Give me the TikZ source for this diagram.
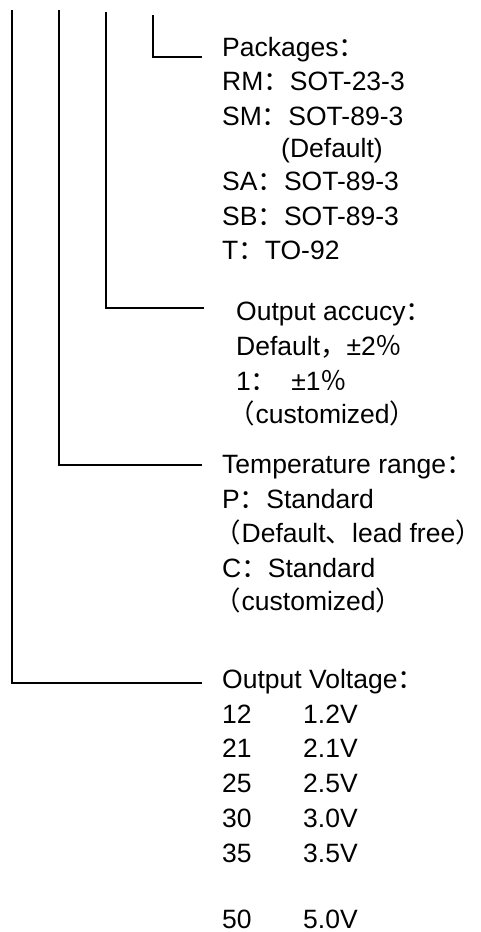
\documentclass[tikz,border=0pt]{standalone}
\usepackage{fontspec}
\setmainfont{Liberation Sans}
\newfontfamily\cjk{Noto Sans CJK SC}
\newcommand\zw[1]{{\cjk #1}}
\newcommand\lp{\hspace*{-8pt}\zw{（}\hspace{1pt}}
\newcommand\rp{\makebox[12pt][l]{\zw{）}}}
\tikzset{lbl/.style={anchor=base west,inner sep=0pt,font=\fontsize{26.5}{30}\selectfont},
 lead/.style={line width=1.8pt}}
\begin{document}
\begin{tikzpicture}[x=1pt,y=-1pt]
\useasboundingbox (0,0) rectangle (480,932);
% packages
\node[lbl] (pkg) at (222,56) {Packages\zw{：}};
\node[lbl] (pkgrm) at (222,90.5) {RM\zw{：}SOT-23-3};
\node[lbl] (pkgsm) at (222,125) {SM\zw{：}SOT-89-3};
\node[lbl] (pkgdef) at (281,157) {(Default)};
\node[lbl] (pkgsa) at (222,190.5) {SA\zw{：}SOT-89-3};
\node[lbl] (pkgsb) at (222,225) {SB\zw{：}SOT-89-3};
\node[lbl] (pkgt) at (222,259) {T\zw{：}TO-92};
% output accuracy
\node[lbl] (acc) at (236,320) {Output accucy\zw{：}};
\node[lbl] (accdef) at (236,355) {Default\zw{，}±2\zw{％}};
\node[lbl] (accone) at (236,390) {1\zw{：}\hspace{14pt}±1\zw{％}};
\node[lbl] (acccus) at (236,423) {\lp customized\rp};
% temperature
\node[lbl] (temp) at (222,473) {Temperature range\zw{：}};
\node[lbl] (tempp) at (222,508) {P\zw{：}Standard};
\node[lbl] (tempdef) at (222,542) {\lp Default\zw{、}lead free\rp};
\node[lbl] (tempc) at (222,577) {C\zw{：}Standard};
\node[lbl] (tempcus) at (222,610) {\lp customized\rp};
% output voltage
\node[lbl] (volt) at (222,688) {Output Voltage\zw{：}};
\foreach \code/\val/\y in {12/1.2/723,21/2.1/757.5,25/2.5/792,30/3.0/827,35/3.5/862,50/5.0/928}{
 \node[lbl] (code\code) at (222,\y) {\code};
 \node[lbl] (val\code) at (303,\y) {\val V};
}
% leads
\coordinate (pkgtop) at (153.3,15); \coordinate (pkgend) at (202,56.7);
\coordinate (acctop) at (106,12); \coordinate (accend) at (204,307.7);
\coordinate (temptop) at (59.3,10); \coordinate (tempend) at (202,465);
\coordinate (volttop) at (11.7,10); \coordinate (voltend) at (202,682.7);
\draw[lead] (pkgtop) |- (pkgend);
\draw[lead] (acctop) |- (accend);
\draw[lead] (temptop) |- (tempend);
\draw[lead] (volttop) |- (voltend);
\end{tikzpicture}
\end{document}
